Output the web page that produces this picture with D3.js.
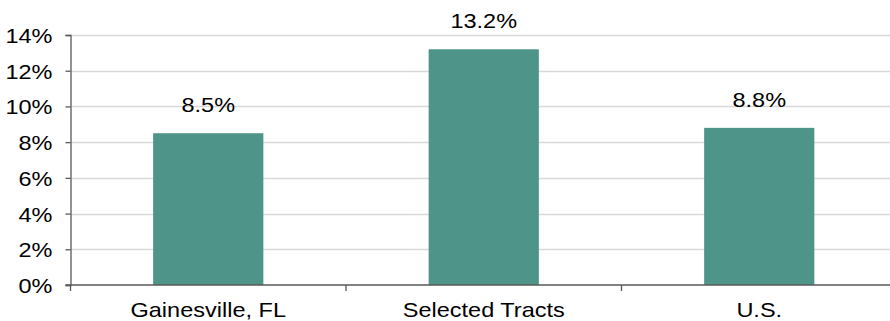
<!DOCTYPE html>
<html>
<head>
<meta charset="utf-8">
<script src="https://cdn.jsdelivr.net/npm/d3@7"></script>
<style>
  html, body { margin: 0; padding: 0; background: #fff; }
  svg { display: block; font-family: "Liberation Sans", Arial, sans-serif; }
</style>
</head>
<body>
<svg id="chart" width="890" height="321"></svg>
<script>
const categories = ["Gainesville, FL", "Selected Tracts", "U.S."];
const values = [8.5, 13.2, 8.8];
const yTicks = [0, 2, 4, 6, 8, 10, 12, 14];

const FONT_SIZE = 21;
const TEXT_STRETCH = 1.12; // slightly wide lettering

const svg = d3.select("#chart");
const margin = { left: 70.5, top: 35, bottom: 285 };

const x = d3.scaleBand()
  .domain(categories)
  .range([margin.left, 897])
  .paddingInner(0.6)
  .paddingOuter(0.3);

const y = d3.scaleLinear()
  .domain([0, 14])
  .range([margin.bottom, margin.top]);

// places a text at (px, py) with horizontal stretching around its anchor
function placeText(sel, px, py) {
  sel.attr("x", 0).attr("y", 0)
    .attr("transform", (d, i) => `translate(${px(d, i)},${py(d, i)}) scale(${TEXT_STRETCH},1)`);
}

// horizontal gridlines
svg.append("g")
  .selectAll("line")
  .data(yTicks.filter(d => d > 0))
  .join("line")
  .attr("x1", margin.left)
  .attr("x2", 890)
  .attr("y1", d => Math.round(y(d)) + 0.5)
  .attr("y2", d => Math.round(y(d)) + 0.5)
  .attr("stroke", "#d9d9d9")
  .attr("stroke-width", 1.5);

// bars
svg.append("g")
  .selectAll("rect")
  .data(values)
  .join("rect")
  .attr("x", (d, i) => x(categories[i]))
  .attr("width", x.bandwidth())
  .attr("y", d => y(d))
  .attr("height", d => y(0) - y(d))
  .attr("fill", "#4f9488");

// value labels
svg.append("g")
  .selectAll("text")
  .data(values)
  .join("text")
  .attr("text-anchor", "middle")
  .attr("font-size", FONT_SIZE)
  .attr("fill", "#000")
  .text(d => d.toFixed(1) + "%")
  .call(placeText, (d, i) => x(categories[i]) + x.bandwidth() / 2, d => y(d) - 21);

// y axis
const yAxis = svg.append("g")
  .attr("transform", `translate(${margin.left},0)`)
  .call(d3.axisLeft(y).tickValues(yTicks).tickSize(5).tickPadding(13)
    .tickFormat(d => d + "%"));
yAxis.select(".domain").attr("stroke", "#595959").attr("stroke-width", 1.3);
yAxis.selectAll(".tick line").attr("stroke", "#595959").attr("stroke-width", 1.3);
yAxis.selectAll(".tick text")
  .attr("font-size", FONT_SIZE)
  .attr("fill", "#000")
  .attr("font-family", "Liberation Sans, Arial, sans-serif")
  .attr("dy", null)
  .attr("transform", `translate(-18,7.5) scale(${TEXT_STRETCH},1)`)
  .attr("x", 0);

// x axis baseline with category separators
const xAxisG = svg.append("g").attr("transform", `translate(0,${y(0)})`);
xAxisG.append("line")
  .attr("x1", margin.left - 5)
  .attr("x2", 890)
  .attr("stroke", "#595959")
  .attr("stroke-width", 1.3);
const step = x.step();
const bounds = d3.range(categories.length + 1).map(i => x.range()[0] + i * step);
xAxisG.selectAll("line.sep")
  .data(bounds)
  .join("line")
  .attr("class", "sep")
  .attr("x1", d => d)
  .attr("x2", d => d)
  .attr("y1", 0)
  .attr("y2", 6)
  .attr("stroke", "#595959")
  .attr("stroke-width", 1.3);
xAxisG.selectAll("text")
  .data(categories)
  .join("text")
  .attr("text-anchor", "middle")
  .attr("font-size", FONT_SIZE)
  .attr("fill", "#000")
  .text(d => d)
  .call(placeText, d => x(d) + x.bandwidth() / 2, () => 31.5);
</script>
</body>
</html>
